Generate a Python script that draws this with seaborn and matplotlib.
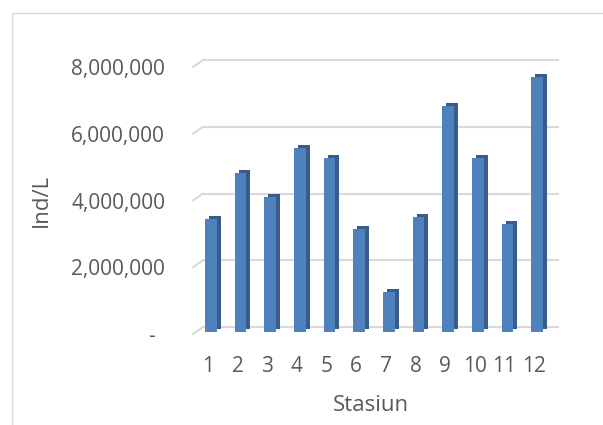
import matplotlib
matplotlib.use("Agg")
import matplotlib.pyplot as plt
import matplotlib.transforms as mtransforms
from matplotlib.patches import Rectangle
import seaborn as sns
import pandas as pd

stations = [str(i) for i in range(1, 13)]
ind_per_l = [3400000, 4750000, 4050000, 5500000, 5200000, 3100000,
             1200000, 3450000, 6780000, 5200000, 3250000, 7650000]
y_ticks = [0, 2000000, 4000000, 6000000, 8000000]
y_labels = ["-", "2,000,000", "4,000,000", "6,000,000", "8,000,000"]

df = pd.DataFrame({"Stasiun": stations, "Ind/L": ind_per_l})

sns.set_theme(style="white")
plt.rcParams["font.family"] = ["Open Sans", "DejaVu Sans"]

TEXT = "#595959"
GRID = "#d9d9d9"

fig = plt.figure(figsize=(6.03, 4.25), dpi=100)
ax = fig.add_axes([193 / 603, 91 / 425, 356 / 603, 267 / 425])


def px(dx, dy):
    # shift in screen pixels, used for the fake 3D depth
    return mtransforms.ScaledTranslation(dx / 100, dy / 100, fig.dpi_scale_trans)


# back wall gridlines and the slanted floor edge on the left
for v in y_ticks:
    ax.hlines(v, -0.5, 11.5, color=GRID, lw=1.5, transform=ax.transData + px(10, 7),
              clip_on=False, zorder=0)
    ax.annotate("", xy=(-0.5, v), xytext=(10 * 0.72, 7 * 0.72), textcoords="offset points",
                arrowprops=dict(arrowstyle="-", color=GRID, lw=1.5, shrinkA=0, shrinkB=0),
                annotation_clip=False, zorder=0)

# dark copy behind = side face + top cap
sns.barplot(data=df, x="Stasiun", y="Ind/L", order=stations, color="#385d8a",
            saturation=1, width=0.4, errorbar=None, linewidth=0, ax=ax)
n = len(ax.patches)
for p in ax.patches:
    p.set_transform(ax.transData + px(7, 5))

# front faces
sns.barplot(data=df, x="Stasiun", y="Ind/L", order=stations, color="#4f81bd",
            saturation=1, width=0.4, errorbar=None, linewidth=0, ax=ax)
for p in ax.patches[n:]:
    p.set_transform(ax.transData + px(3, 2))

ax.set_xlim(-0.5, 11.5)
ax.set_ylim(0, 8000000)
ax.set_yticks(y_ticks, labels=y_labels)
for s in ax.spines.values():
    s.set_visible(False)
ax.tick_params(axis="y", length=0, pad=20, labelsize=15, labelcolor=TEXT)
ax.tick_params(axis="x", length=0, pad=16, labelsize=15, labelcolor=TEXT)

# accounting style zero sits a bit left of the numbers
zero_lbl = ax.yaxis.get_major_ticks()[0].label1
zero_lbl.set_transform(zero_lbl.get_transform() + px(-10, 0))

ax.set_xlabel("Stasiun", fontsize=16, color=TEXT)
ax.set_ylabel("Ind/L", fontsize=16, color=TEXT)
ax.xaxis.set_label_coords(0.5, -0.228)
ax.yaxis.set_label_coords(-0.396, 0.5)

# chart area border (cut off on right and bottom)
fig.add_artist(Rectangle((12 / 603, -0.1), 1.0, (425 - 13) / 425 + 0.1, fill=False,
                         edgecolor=GRID, lw=1, transform=fig.transFigure))

fig.savefig("out.png", dpi=100)
